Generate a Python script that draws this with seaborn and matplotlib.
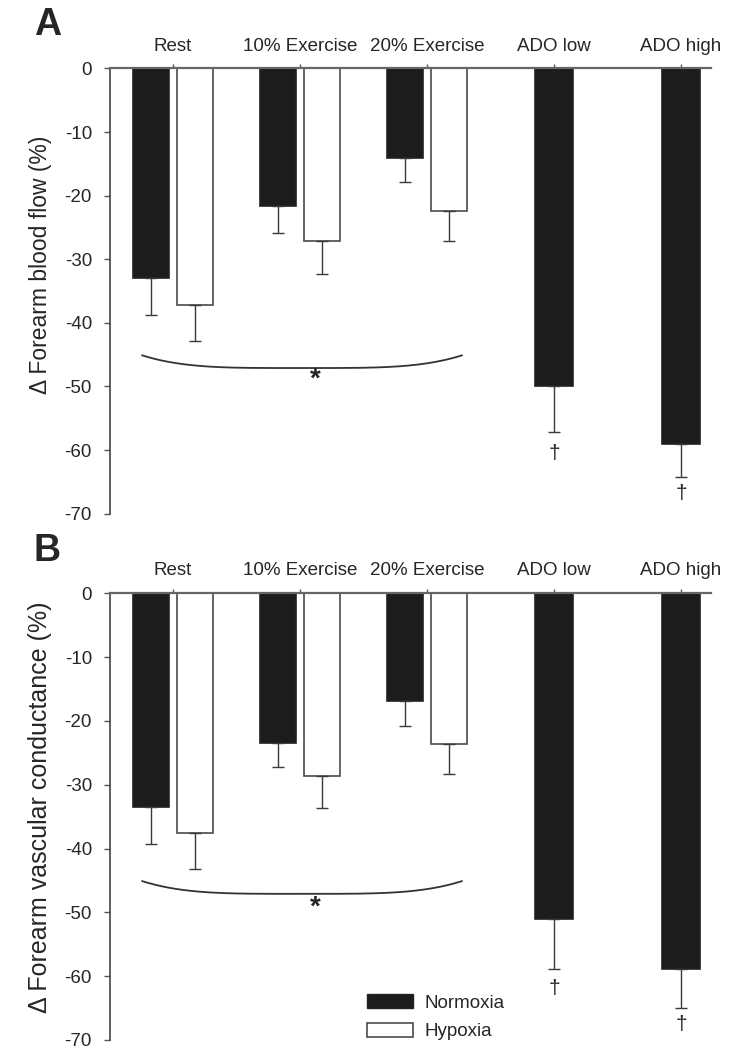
import numpy as np
import pandas as pd
import matplotlib
matplotlib.use("Agg")
import matplotlib.pyplot as plt
from matplotlib.patches import Patch
import seaborn as sns

# ---- data ----
conditions = ["Rest", "10% Exercise", "20% Exercise", "ADO low", "ADO high"]
hypoxia_conditions = ["Rest", "10% Exercise", "20% Exercise"]

flow_normoxia = [-33.0, -21.7, -14.0, -50.0, -59.1]
flow_normoxia_err = [5.8, 4.1, 3.9, 7.2, 5.2]
flow_hypoxia = [-37.2, -27.2, -22.4]
flow_hypoxia_err = [5.6, 5.1, 4.8]

cond_normoxia = [-33.5, -23.5, -16.9, -51.0, -58.9]
cond_normoxia_err = [5.8, 3.8, 3.9, 7.9, 6.1]
cond_hypoxia = [-37.6, -28.7, -23.6]
cond_hypoxia_err = [5.6, 5.0, 4.7]

y_ticks = [0, -10, -20, -30, -40, -50, -60, -70]

# annotation levels (data units)
brace_top = -45.1
brace_depth = 2.0
star_y = [-49.0, -49.3]
dagger_y = [[-60.5, -66.8], [-61.9, -67.6]]

sns.set_style("ticks")
plt.rcParams["font.family"] = ["Liberation Sans", "DejaVu Sans"]
plt.rcParams["axes.unicode_minus"] = False

DARK = "#1c1c1c"
EDGE = "#4a4a4a"


def make_frame(norm, norm_err, hyp, hyp_err):
    rows = []
    for c, v, e in zip(conditions, norm, norm_err):
        rows.append({"condition": c, "gas": "Normoxia", "value": v, "err": e})
    for c, v, e in zip(hypoxia_conditions, hyp, hyp_err):
        rows.append({"condition": c, "gas": "Hypoxia", "value": v, "err": e})
    return pd.DataFrame(rows)


def draw_panel(ax, df, ylabel, panel_idx, label_size, label_y):
    sns.barplot(data=df, x="condition", y="value", hue="gas",
                order=conditions, hue_order=["Normoxia", "Hypoxia"],
                palette={"Normoxia": DARK, "Hypoxia": "white"},
                width=0.69, gap=0.18, dodge=True, errorbar=None,
                legend=False, ax=ax)

    gas_names = ["Normoxia", "Hypoxia"]
    bar_containers = list(ax.containers)
    for gi, cont in enumerate(bar_containers):
        gas = gas_names[gi]
        for bar in cont:
            h = bar.get_height()
            if np.isnan(h):
                continue
            cx = bar.get_x() + bar.get_width() / 2
            ci = int(round(cx))
            # ADO conditions only have normoxia: centre the bar on its tick
            if conditions[ci].startswith("ADO"):
                bar.set_width(0.30)
                bar.set_x(ci - 0.15)
                cx = ci
            bar.set_edgecolor("#222222" if gas == "Normoxia" else EDGE)
            bar.set_linewidth(1.2)
            row = df[(df.condition == conditions[ci]) & (df.gas == gas)].iloc[0]
            ax.errorbar(cx, row.value, yerr=[[row.err], [0]], fmt="none",
                        ecolor="#3a3a3a", elinewidth=1.0, capsize=4,
                        capthick=1.0, zorder=1)

    # brace under the rest/exercise groups
    x0, x1 = -0.244, 2.276
    xs = np.linspace(x0, x1, 200)
    t = (xs - (x0 + x1) / 2) / ((x1 - x0) / 2)
    ax.plot(xs, brace_top - brace_depth * (1 - t ** 4), color="#333333", lw=1.3)
    ax.text(1.12, star_y[panel_idx], "*", ha="center", va="center",
            fontsize=20, fontweight="bold")
    for k, ci in enumerate([3, 4]):
        ax.text(ci, dagger_y[panel_idx][k], "\u2020", ha="center", va="center",
                fontsize=15)

    ax.set_ylim(-70, 0)
    ax.set_xlim(-0.496, 4.236)
    ax.set_yticks(y_ticks)
    ax.set_yticklabels([str(v) for v in y_ticks])
    ax.xaxis.tick_top()
    ax.set_xlabel("")
    ax.set_ylabel(ylabel, fontsize=label_size)
    ax.yaxis.set_label_coords(-0.096, label_y)
    ax.tick_params(axis="x", direction="out", length=3, width=1,
                   color="#555555", pad=7, labelsize=13.5)
    ax.tick_params(axis="y", direction="out", length=4, width=1,
                   color="#555555", pad=9, labelsize=13.5)

    for side in ["right", "bottom"]:
        ax.spines[side].set_visible(False)
    ax.spines["left"].set_color("#444444")
    ax.spines["left"].set_linewidth(1.2)
    ax.spines["top"].set_color("#666666")
    ax.spines["top"].set_linewidth(1.6)
    ax.spines["top"].set_linestyle((0, (3, 1)))


fig = plt.figure(figsize=(7.5, 10.6), dpi=100)
ax_a = fig.add_axes([0.1467, 0.5154, 0.8013, 0.420])
ax_b = fig.add_axes([0.1467, 0.0189, 0.8013, 0.4214])

draw_panel(ax_a, make_frame(flow_normoxia, flow_normoxia_err, flow_hypoxia, flow_hypoxia_err),
           "\u0394 Forearm blood flow (%)", 0, 16.5, 0.56)
draw_panel(ax_b, make_frame(cond_normoxia, cond_normoxia_err, cond_hypoxia, cond_hypoxia_err),
           "\u0394 Forearm vascular conductance (%)", 1, 18, 0.52)

handles = [Patch(facecolor=DARK, edgecolor="#222222", label="Normoxia"),
           Patch(facecolor="white", edgecolor=EDGE, linewidth=1.2, label="Hypoxia")]
ax_b.legend(handles=handles, loc="upper left", bbox_to_anchor=(0.4276, 0.102),
            frameon=False, borderpad=0, borderaxespad=0, fontsize=13.5,
            handlelength=2.45, handleheight=0.75, handletextpad=0.6,
            labelspacing=0.6)

fig.text(0.045, 1 - 25 / 1060, "A", fontsize=27, fontweight="bold", va="center")
fig.text(0.045, 1 - 551 / 1060, "B", fontsize=27, fontweight="bold", va="center")

fig.savefig("out.png", dpi=100)
